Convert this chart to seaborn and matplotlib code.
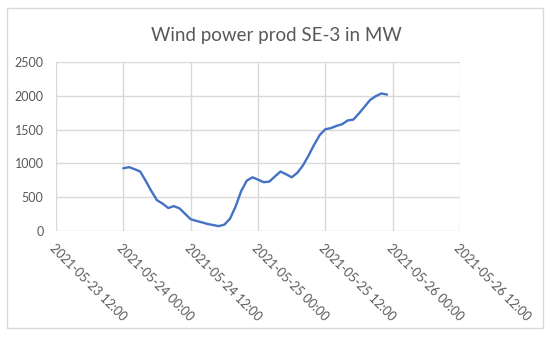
import numpy as np
import pandas as pd
import matplotlib
matplotlib.use("Agg")
import matplotlib.pyplot as plt
import matplotlib.dates as mdates
from matplotlib.patches import Rectangle
import seaborn as sns

# ===================== Data =====================
title = "Wind power prod SE-3 in MW"
start_time = "2021-05-24 00:00"
# hourly production, MW
power_mw = [928, 945, 915, 880, 740, 590, 455, 405, 340, 368, 335, 255,
            174, 150, 128, 104, 88, 72, 94, 180, 360, 590, 745, 794,
            760, 722, 730, 805, 880, 840, 794, 860, 969, 1115, 1275, 1420,
            1505, 1522, 1555, 1580, 1636, 1648, 1740, 1840, 1940, 1995, 2035, 2018]
x_range = ["2021-05-23 12:00", "2021-05-26 12:00"]
y_ticks = [0, 500, 1000, 1500, 2000, 2500]

df = pd.DataFrame({
    "time": pd.date_range(start_time, periods=len(power_mw), freq="h"),
    "mw": power_mw,
})

# ===================== Plot =====================
sns.set_theme(style="white")
plt.rcParams["font.family"] = ["Lato", "DejaVu Sans"]

W, H = 550, 337
fig = plt.figure(figsize=(W / 100, H / 100), dpi=100)
ax = fig.add_axes([56 / W, 1 - 231 / H, 404 / W, 169 / H])

sns.lineplot(data=df, x="time", y="mw", ax=ax, color="#4472C4", linewidth=1.7)

ax.set_xlim(pd.Timestamp(x_range[0]), pd.Timestamp(x_range[1]))
ax.set_ylim(y_ticks[0], y_ticks[-1])
ax.set_yticks(y_ticks)
ax.xaxis.set_major_locator(mdates.HourLocator(byhour=[0, 12]))
ax.xaxis.set_major_formatter(mdates.DateFormatter("%Y-%m-%d %H:%M"))
ax.set_xlabel("")
ax.set_ylabel("")

ax.grid(True, color="#d9d9d9", linewidth=1)
for s in ax.spines.values():
    s.set_visible(False)
ax.tick_params(axis="both", length=0, colors="#595959", labelsize=9)
ax.tick_params(axis="y", pad=9)
ax.tick_params(axis="x", pad=8)
for lbl in ax.get_xticklabels():
    lbl.set_rotation(-45)
    lbl.set_rotation_mode("anchor")
    lbl.set_ha("left")
    lbl.set_va("top")

fig.text(276 / W, 1 - 35 / H, title, ha="center", va="center",
         fontsize=13.5, color="#595959")

# chart border
fig.patches.append(Rectangle((7 / W, 1 - 328 / H), 536 / W, 320 / H,
                             transform=fig.transFigure, fill=False,
                             edgecolor="#d9d9d9", linewidth=1))

fig.savefig("out.png", dpi=100, facecolor="white")
